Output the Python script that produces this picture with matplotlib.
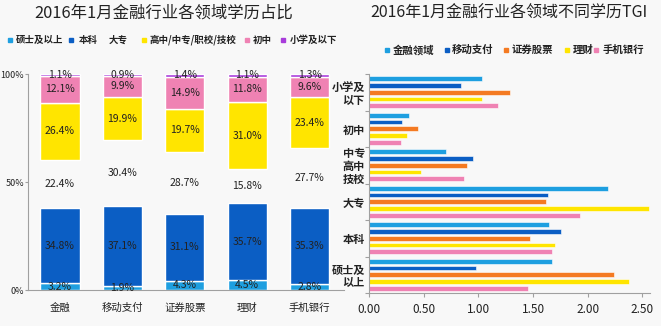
import matplotlib
matplotlib.use("Agg")
import matplotlib.pyplot as plt
import numpy as np
from matplotlib.patches import Rectangle

plt.rcParams['font.family'] = ['Noto Sans CJK SC', 'DejaVu Sans']

# ---------------- data ----------------
fields = ['金融', '移动支付', '证券股票', '理财', '手机银行']
edu_levels = ['硕士及以上', '本科', '大专', '高中/中专/职校/技校', '初中', '小学及以下']
share_master = [3.2, 1.9, 4.3, 4.5, 2.8]
share_bachelor = [34.8, 37.1, 31.1, 35.7, 35.3]
share_college = [22.4, 30.4, 28.7, 15.8, 27.7]
share_highschool = [26.4, 19.9, 19.7, 31.0, 23.4]
share_junior = [12.1, 9.9, 14.9, 11.8, 9.6]
share_primary = [1.1, 0.9, 1.4, 1.1, 1.3]

tgi_categories = ['硕士及\n以上', '本科', '大专', '中专\n高中\n技校', '初中', '小学及\n以下']
tgi_series = ['金融领域', '移动支付', '证券股票', '理财', '手机银行']
# values ordered as tgi_categories (bottom to top)
tgi_finance = [1.67, 1.65, 2.19, 0.70, 0.37, 1.03]
tgi_mobile = [0.98, 1.76, 1.64, 0.95, 0.30, 0.84]
tgi_securities = [2.24, 1.47, 1.62, 0.90, 0.45, 1.29]
tgi_wealth = [2.38, 1.70, 2.56, 0.48, 0.35, 1.03]
tgi_mbank = [1.45, 1.67, 1.93, 0.87, 0.29, 1.18]

# ---------------- style ----------------
W, H = 661, 326
fig = plt.figure(figsize=(W / 100, H / 100), dpi=100)
bg = '#F8F8F8'
fig.patch.set_facecolor(bg)

c_light = '#1E9FE0'
c_dark = '#0B5EC4'
c_yellow = '#FFE500'
c_pink = '#EF82B3'
c_purple = '#A83CDB'
c_orange = '#F47A22'
axis_gray = '#A0A0A0'
txt = '#222222'

def fx(px):
    return px / W

def fy(py):
    return 1 - py / H

# ---------------- left chart ----------------
axL = fig.add_axes([fx(28), fy(290), fx(344 - 28), (290 - 74) / H])
axL.set_facecolor('none')
x = np.arange(len(fields))
stack = [share_master, share_bachelor, share_college, share_highschool, share_junior, share_primary]
colors_l = [c_light, c_dark, 'none', c_yellow, c_pink, c_purple]
bottom = np.zeros(len(fields))
for vals, col in zip(stack, colors_l):
    v = np.array(vals) / 100.0
    ec = 'white' if col != 'none' else 'none'
    axL.bar(x, v, bottom=bottom, width=0.63, color=col, edgecolor=ec, linewidth=1.0)
    for xi, b, vi, raw in zip(x, bottom, v, vals):
        axL.text(xi, b + vi / 2, f'{raw:.1f}%', ha='center', va='center',
                 fontsize=7.5, color=txt)
    bottom += v

axL.set_xlim(-0.51, 4.55)
axL.set_ylim(0, 1.0)
axL.set_yticks([0, 0.5, 1.0])
axL.set_yticklabels(['0%', '50%', '100%'])
axL.set_xticks(x)
axL.set_xticklabels(fields)
axL.tick_params(axis='y', labelsize=6.5, colors=axis_gray, labelcolor=txt, length=2, width=0.8, pad=1)
axL.tick_params(axis='x', labelsize=7.5, length=0, pad=9, labelcolor=txt)
for s in ['top', 'right']:
    axL.spines[s].set_visible(False)
for s in ['left', 'bottom']:
    axL.spines[s].set_color(axis_gray)
    axL.spines[s].set_linewidth(0.8)

fig.text(fx(164), fy(13), '2016年1月金融行业各领域学历占比', ha='center', va='center',
         fontsize=11.8, color=txt)

# left legend (manual)
leg_left = [(10, 16, c_light), (71, 79, c_dark), (103, 109, None),
            (144, 149, c_yellow), (247, 253, c_pink), (283, 290, c_purple)]
for (mx, tx, col), lab in zip(leg_left, edu_levels):
    if col is not None:
        fig.patches.append(Rectangle((fx(mx - 2), fy(42)), fx(4), 4 / H,
                                     transform=fig.transFigure, color=col))
    fig.text(fx(tx), fy(40), lab, ha='left', va='center', fontsize=6.8,
             color=txt, fontweight='bold')

# ---------------- right chart ----------------
axR = fig.add_axes([fx(369), fy(293), fx(650 - 369), (293 - 74) / H])
axR.set_facecolor('none')
y = np.arange(len(tgi_categories))
series = [tgi_finance, tgi_mobile, tgi_securities, tgi_wealth, tgi_mbank]
colors_r = [c_light, c_dark, c_orange, c_yellow, c_pink]
pitch = 0.185
for j, (vals, col) in enumerate(zip(series, colors_r)):
    axR.barh(y + (2 - j) * pitch, vals, height=0.135, color=col, edgecolor='white', linewidth=0.4)

axR.set_ylim(-0.5, 5.5)
axR.set_xlim(0, 2.57)
axR.set_xticks([0, 0.5, 1.0, 1.5, 2.0, 2.5])
axR.set_xticklabels([f'{v:.2f}' for v in [0, 0.5, 1.0, 1.5, 2.0, 2.5]])
axR.set_yticks(y)
axR.set_yticklabels(tgi_categories, fontweight='bold', linespacing=1.0)
axR.set_yticks(np.arange(-0.5, 6.0, 1.0), minor=True)
axR.tick_params(axis='y', which='major', length=0, labelsize=8, labelcolor=txt, pad=3)
axR.tick_params(axis='y', which='minor', length=3, color=axis_gray, width=0.8)
axR.tick_params(axis='x', labelsize=8.5, labelcolor=txt, color=axis_gray, length=3, width=0.8, pad=4)
for s in ['top', 'right']:
    axR.spines[s].set_visible(False)
for s in ['left', 'bottom']:
    axR.spines[s].set_color(axis_gray)
    axR.spines[s].set_linewidth(0.8)

fig.text(fx(509), fy(13), '2016年1月金融行业各领域不同学历TGI', ha='center', va='center',
         fontsize=11.5, color=txt)

leg_right = [(387, 393, c_light), (447, 452, c_dark), (506, 512, c_orange),
             (567, 573, c_yellow), (596, 603, c_pink)]
for (mx, tx, col), lab in zip(leg_right, tgi_series):
    fig.patches.append(Rectangle((fx(mx - 2), fy(52)), fx(4), 4 / H,
                                 transform=fig.transFigure, color=col))
    fig.text(fx(tx), fy(50), lab, ha='left', va='center', fontsize=7.5,
             color=txt, fontweight='bold')

fig.savefig('out.png', dpi=100, facecolor=bg)
